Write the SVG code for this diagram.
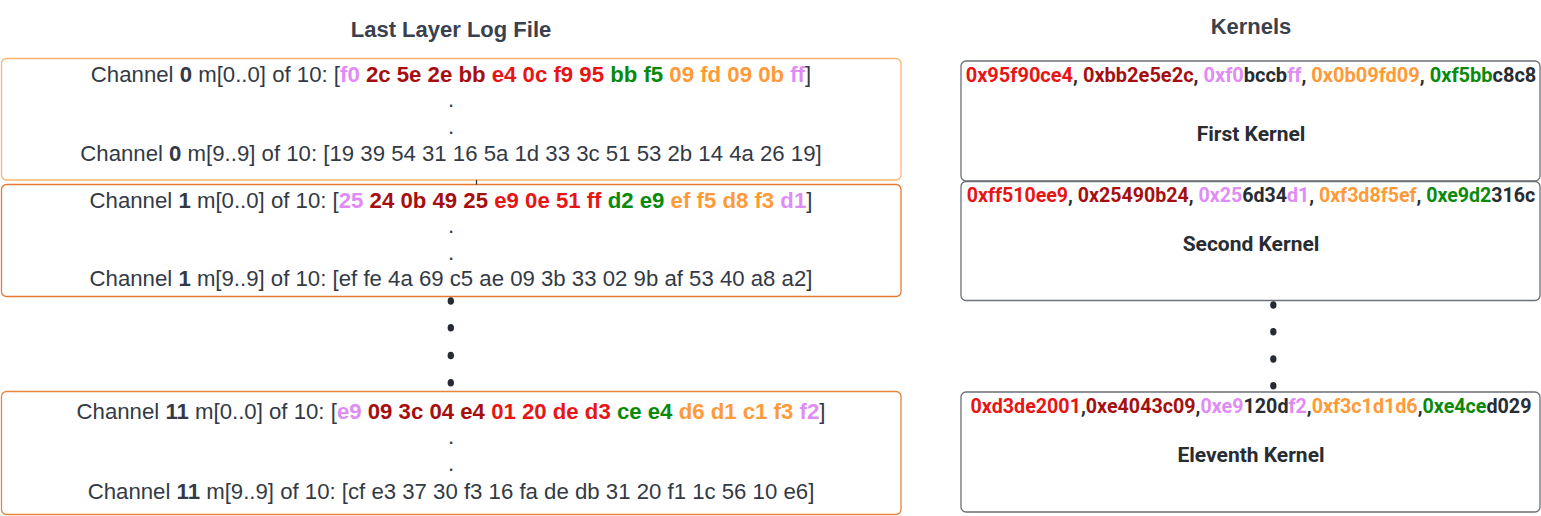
<svg xmlns="http://www.w3.org/2000/svg" width="1541" height="516" viewBox="0 0 1541 516">
<style>
.title{font-family:"Liberation Sans",Arial,sans-serif;font-weight:bold;font-size:22px;fill:#3a414e;text-anchor:middle}
.ch{font-family:"Liberation Sans",Arial,sans-serif;font-size:22.2px;fill:#333a45;text-anchor:middle}
.kr{font-family:Roboto,"Liberation Sans",sans-serif;font-weight:bold;font-size:20px;fill:#282c33;text-anchor:middle}
.kl{font-family:Roboto,"Liberation Sans",sans-serif;font-weight:bold;font-size:21px;fill:#282c33;text-anchor:middle}
.b{font-weight:bold}
.lil{fill:#e08cf5;font-weight:bold}
.dr{fill:#a50f0f;font-weight:bold}
.rd{fill:#e81515;font-weight:bold}
.gr{fill:#0a8a0a;font-weight:bold}
.or{fill:#ff9a38;font-weight:bold}
.box{fill:#ffffff;stroke-width:1.3}
.kbox{fill:#ffffff;stroke:#6b6f78;stroke-width:1.3}
.dot{fill:#252a33}
</style>
<rect width="1541" height="516" fill="#ffffff"/>
<text class="title" x="451" y="37">Last Layer Log File</text>
<text class="title" x="1251" y="34">Kernels</text>

<g id="channel0">
<rect class="box" x="1.5" y="58.5" width="899.5" height="121.5" rx="5" stroke="#f9b472"/>
<text class="ch" x="451" y="81.5">Channel <tspan class="b">0</tspan> m[0..0] of 10: [<tspan class="lil">f0</tspan> <tspan class="dr">2c 5e 2e bb</tspan> <tspan class="rd">e4 0c f9 95</tspan> <tspan class="gr">bb f5</tspan> <tspan class="or">09 fd 09 0b</tspan> <tspan class="lil">ff</tspan>]</text>
<text class="ch" x="451" y="107">.</text>
<text class="ch" x="451" y="134">.</text>
<text class="ch" x="451" y="161">Channel <tspan class="b">0</tspan> m[9..9] of 10: [19 39 54 31 16 5a 1d 33 3c 51 53 2b 14 4a 26 19]</text>
</g>

<g id="channel1">
<rect class="box" x="1.5" y="184.5" width="899.5" height="112" rx="5" stroke="#e27a34"/>
<text class="ch" x="451" y="207.5">Channel <tspan class="b">1</tspan> m[0..0] of 10: [<tspan class="lil">25</tspan> <tspan class="dr">24 0b 49 25</tspan> <tspan class="rd">e9 0e 51 ff</tspan> <tspan class="gr">d2 e9</tspan> <tspan class="or">ef f5 d8 f3</tspan> <tspan class="lil">d1</tspan>]</text>
<text class="ch" x="451" y="233">.</text>
<text class="ch" x="451" y="260">.</text>
<text class="ch" x="451" y="286">Channel <tspan class="b">1</tspan> m[9..9] of 10: [ef fe 4a 69 c5 ae 09 3b 33 02 9b af 53 40 a8 a2]</text>
</g>

<g id="channel11">
<rect class="box" x="1.5" y="391.5" width="899.5" height="123" rx="5" stroke="#e8843e"/>
<text class="ch" x="451" y="418.5">Channel <tspan class="b">11</tspan> m[0..0] of 10: [<tspan class="lil">e9</tspan> <tspan class="dr">09 3c 04 e4</tspan> <tspan class="rd">01 20 de d3</tspan> <tspan class="gr">ce e4</tspan> <tspan class="or">d6 d1 c1 f3</tspan> <tspan class="lil">f2</tspan>]</text>
<text class="ch" x="451" y="444">.</text>
<text class="ch" x="451" y="471">.</text>
<text class="ch" x="451" y="498.5">Channel <tspan class="b">11</tspan> m[9..9] of 10: [cf e3 37 30 f3 16 fa de db 31 20 f1 1c 56 10 e6]</text>
</g>

<g id="kernel1">
<rect class="kbox" x="961" y="61" width="579" height="120" rx="5"/>
<text class="kr" x="1251" y="81.5"><tspan class="rd">0x95f90ce4</tspan>, <tspan class="dr">0xbb2e5e2c</tspan>, <tspan class="lil">0xf0</tspan>bccb<tspan class="lil">ff</tspan>, <tspan class="or">0x0b09fd09</tspan>, <tspan class="gr">0xf5bb</tspan>c8c8</text>
<text class="kl" x="1251" y="141">First Kernel</text>
</g>

<g id="kernel2">
<rect class="kbox" x="961" y="181.5" width="579" height="119" rx="5"/>
<text class="kr" x="1251" y="202" style="font-size:19.6px"><tspan class="rd">0xff510ee9</tspan>, <tspan class="dr">0x25490b24</tspan>, <tspan class="lil">0x25</tspan>6d34<tspan class="lil">d1</tspan>, <tspan class="or">0xf3d8f5ef</tspan>, <tspan class="gr">0xe9d2</tspan>316c</text>
<text class="kl" x="1251" y="250.5">Second Kernel</text>
</g>

<g id="kernel11">
<rect class="kbox" x="961" y="392" width="579" height="120" rx="5"/>
<text class="kr" x="1251" y="413" style="font-size:19.7px"><tspan class="rd">0xd3de2001</tspan>,<tspan class="dr">0xe4043c09</tspan>,<tspan class="lil">0xe9</tspan>120d<tspan class="lil">f2</tspan>,<tspan class="or">0xf3c1d1d6</tspan>,<tspan class="gr">0xe4ce</tspan>d029</text>
<text class="kl" x="1251" y="462">Eleventh Kernel</text>
</g>

<g id="connectors">
<line x1="476.5" y1="180" x2="476.5" y2="184.5" stroke="#252a33" stroke-width="1.2"/>
<ellipse class="dot" cx="450.8" cy="301" rx="3.2" ry="3.8"/>
<ellipse class="dot" cx="450.8" cy="327.7" rx="3.2" ry="3.8"/>
<ellipse class="dot" cx="450.8" cy="355.5" rx="3.2" ry="3.8"/>
<ellipse class="dot" cx="450.8" cy="382.7" rx="3.2" ry="3.8"/>
<ellipse class="dot" cx="1273.3" cy="305" rx="3.2" ry="3.8"/>
<ellipse class="dot" cx="1273.3" cy="331.7" rx="3.2" ry="3.8"/>
<ellipse class="dot" cx="1273.3" cy="359" rx="3.2" ry="3.8"/>
<ellipse class="dot" cx="1273.3" cy="385.7" rx="3.2" ry="3.8"/>
</g>
</svg>
